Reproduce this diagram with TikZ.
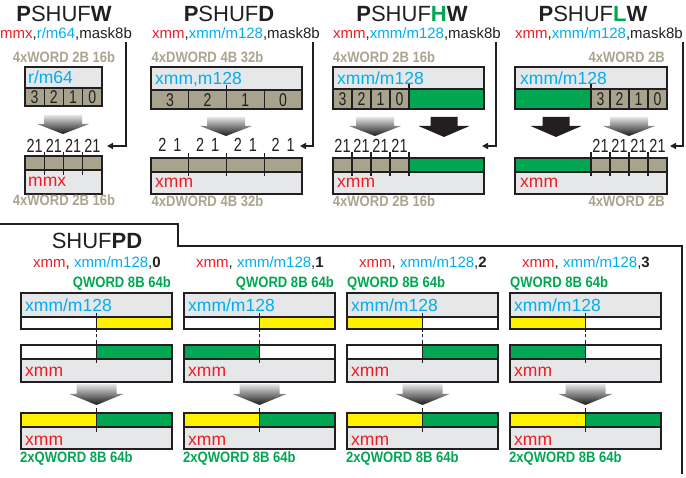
\documentclass[tikz,border=0pt]{standalone}
\usepackage{fontspec}
\setmainfont{Liberation Sans}
\newfontfamily\labfont[FakeStretch=0.87]{Liberation Sans Bold}
\newfontfamily\numfont[FakeStretch=0.76]{Liberation Sans}
\usetikzlibrary{arrows.meta}

\definecolor{ink}{HTML}{231F20}
\definecolor{xred}{HTML}{ED1C24}
\definecolor{xcyan}{HTML}{00AEEF}
\definecolor{xgreen}{HTML}{00A651}
\definecolor{xyellow}{HTML}{FFF200}
\definecolor{khaki}{HTML}{A7A38D}
\definecolor{khakitext}{HTML}{A9A58F}
\definecolor{lgray}{HTML}{E6E7E8}

\tikzset{
 fadearrow/.pic={\shade[top color=black!10, bottom color=black!90] (-19,0) -- (19,0) -- (19,9) -- (26,9) -- (0,19) -- (-26,9) -- (-19,9) -- cycle;},
 fadearrowwide/.pic={\shade[top color=black!10, bottom color=black!90] (-20,0) -- (20,0) -- (20,10) -- (27,10) -- (0,21) -- (-27,10) -- (-20,10) -- cycle;},
 solidarrow/.pic={\fill[ink] (-13.5,0) -- (13.5,0) -- (13.5,9) -- (25.5,9) -- (0,20) -- (-25.5,9) -- (-13.5,9) -- cycle;}
}

\begin{document}
\begin{tikzpicture}[x=1pt, y=-1pt]
 \tikzstyle{regbox}=[draw=ink, line width=1.4pt, fill=lgray]
 \tikzstyle{lanes}=[draw=ink, line width=1.4pt, fill=khaki]
 \tikzstyle{hilane}=[draw=ink, line width=1.4pt, fill=xgreen]
 \tikzstyle{half}=[draw=ink, line width=1.4pt]
 \tikzstyle{lanesep}=[draw=ink, line width=1.2pt]
 \tikzstyle{optitle}=[inner sep=0pt, anchor=base, text=ink, font=\fontsize{22}{26}\selectfont]
 \tikzstyle{opargs}=[inner sep=0pt, anchor=base, text=ink, font=\fontsize{15}{18}\selectfont]
 \tikzstyle{szlab}=[inner sep=0pt, text=khakitext, font=\labfont\fontsize{15}{18}\selectfont]
 \tikzstyle{qwlab}=[inner sep=0pt, text=xgreen, font=\labfont\fontsize{15}{18}\selectfont]
 \tikzstyle{regname}=[inner sep=0pt, anchor=base west, font=\fontsize{17.5}{20}\selectfont]
 \tikzstyle{cellno}=[inner sep=0pt, anchor=base, text=ink, font=\numfont\fontsize{18.5}{20}\selectfont]
 \tikzstyle{selno}=[inner sep=0pt, anchor=base, text=ink, font=\numfont\fontsize{19}{22}\selectfont]
 \tikzstyle{maskline}=[-{Triangle[length=6pt,width=6pt]}, line width=2.2pt, draw=ink]
 \useasboundingbox (0,0) rectangle (686,478);
 %
 % PSHUFW
 \node[optitle] (pshufw) at (64,22) {\textbf{P}SHUF\textbf{W}};
 \node[opargs] (args1) at (66,38.5) {\textcolor{xred}{mmx},\textcolor{xcyan}{r/m64},mask8b};
 \node[szlab, anchor=base] (sz1) at (64,63) {4xWORD 2B 16b};
 \draw[regbox] (25,67) rectangle (102,106);
 \node[regname, text=xcyan] (src1) at (28,84) {r/m64};
 \draw[lanes] (25,88) rectangle (102,106);
 \draw[lanesep] (44.25,88) -- (44.25,106) (63.5,88) -- (63.5,106) (82.75,88) -- (82.75,106);
 \node[cellno] (c13) at (34.6,104) {3};
 \node[cellno] (c12) at (53.9,104) {2};
 \node[cellno] (c11) at (73.1,104) {1};
 \node[cellno] (c10) at (92.4,104) {0};
 \pic at (63,115) {fadearrow};
 \node[selno] (s13) at (34.6,153) {21};
 \node[selno] (s12) at (53.9,153) {21};
 \node[selno] (s11) at (73.1,153) {21};
 \node[selno] (s10) at (92.4,153) {21};
 \draw[regbox] (25,156) rectangle (102,194);
 \draw[lanes] (25,156) rectangle (102,170);
 \draw[lanesep] (44.25,152) -- (44.25,175) (63.5,152) -- (63.5,175) (82.75,152) -- (82.75,175);
 \node[regname, text=xred] (dst1) at (28,187) {mmx};
 \node[szlab, anchor=base] (sz1b) at (64,206) {4xWORD 2B 16b};
 \coordinate (k1) at (126,42);
 \coordinate (k1end) at (107,146);
 \draw[maskline] (k1) |- (k1end);
 %
 % PSHUFD
 \node[optitle] (pshufd) at (229,22) {\textbf{P}SHUF\textbf{D}};
 \node[opargs] (args2) at (236,38.5) {\textcolor{xred}{xmm},\textcolor{xcyan}{xmm/m128},mask8b};
 \node[szlab, anchor=base] (sz2) at (207.5,63) {4xDWORD 4B 32b};
 \draw[regbox] (151,67) rectangle (302,109);
 \node[regname, text=xcyan] (src2) at (155,85) {xmm,m128};
 \draw[lanes] (151,90) rectangle (302,109);
 \draw[lanesep] (188.75,90) -- (188.75,109) (226.5,85) -- (226.5,109) (264.25,90) -- (264.25,109);
 \node[cellno] (c23) at (170,106.5) {3};
 \node[cellno] (c22) at (207.6,106.5) {2};
 \node[cellno] (c21) at (245.4,106.5) {1};
 \node[cellno] (c20) at (283.1,106.5) {0};
 \pic at (226,117) {fadearrow};
 \node[selno] (s23) at (170,152) {2\hspace{7pt}1};
 \node[selno] (s22) at (207.6,152) {2\hspace{7pt}1};
 \node[selno] (s21) at (245.4,152) {2\hspace{7pt}1};
 \node[selno] (s20) at (283.1,152) {2\hspace{7pt}1};
 \draw[regbox] (151,158) rectangle (302,194);
 \draw[lanes] (151,158) rectangle (302,172);
 \draw[lanesep] (188.75,153) -- (188.75,176) (226.5,153) -- (226.5,176) (264.25,153) -- (264.25,176);
 \node[regname, text=xred] (dst2) at (155,188) {xmm};
 \node[szlab, anchor=base] (sz2b) at (207.5,207) {4xDWORD 4B 32b};
 \coordinate (k2) at (313,42);
 \coordinate (k2end) at (300,146);
 \draw[maskline] (k2) |- (k2end);
 %
 % PSHUFHW
 \node[optitle] (pshufhw) at (412,22) {\textbf{P}SHUF\textbf{\textcolor{xgreen}{H}W}};
 \node[opargs] (args3) at (417,38.5) {\textcolor{xred}{xmm},\textcolor{xcyan}{xmm/m128},mask8b};
 \node[szlab, anchor=base] (sz3) at (384,63) {4xWORD 2B 16b};
 \draw[regbox] (333,67) rectangle (484,109);
 \node[regname, text=xcyan] (src3) at (337,85) {xmm/m128};
 \draw[lanes] (333,89) rectangle (409,109);
 \draw[hilane] (409,89) rectangle (484,109);
 \draw[lanesep] (352,89) -- (352,109) (371,89) -- (371,109) (390,89) -- (390,109) (409,84) -- (409,89);
 \node[cellno] (c33) at (342.5,106) {3};
 \node[cellno] (c32) at (361.5,106) {2};
 \node[cellno] (c31) at (380.5,106) {1};
 \node[cellno] (c30) at (399.5,106) {0};
 \pic at (375,117) {fadearrow};
 \pic at (444,117) {solidarrow};
 \node[selno] (s33) at (342.5,153) {21};
 \node[selno] (s32) at (361.5,153) {21};
 \node[selno] (s31) at (380.5,153) {21};
 \node[selno] (s30) at (399.5,153) {21};
 \draw[regbox] (333,158) rectangle (484,194);
 \draw[lanes] (333,158) rectangle (409,172);
 \draw[hilane] (409,158) rectangle (484,172);
 \draw[lanesep] (352,152) -- (352,176) (371,152) -- (371,176) (390,152) -- (390,176) (409,152) -- (409,176);
 \node[regname, text=xred] (dst3) at (337,188) {xmm};
 \node[szlab, anchor=base] (sz3b) at (384,207) {4xWORD 2B 16b};
 \coordinate (k3) at (496,42);
 \coordinate (k3end) at (482,146);
 \draw[maskline] (k3) |- (k3end);
 %
 % PSHUFLW
 \node[optitle] (pshuflw) at (593,22) {\textbf{P}SHUF\textbf{\textcolor{xgreen}{L}W}};
 \node[opargs] (args4) at (599,38.5) {\textcolor{xred}{xmm},\textcolor{xcyan}{xmm/m128},mask8b};
 \node[szlab, anchor=base east] (sz4) at (665,63) {4xWORD 2B};
 \draw[regbox] (515,67) rectangle (667,109);
 \node[regname, text=xcyan] (src4) at (520,85) {xmm/m128};
 \draw[hilane] (515,89) rectangle (591,109);
 \draw[lanes] (591,89) rectangle (667,109);
 \draw[lanesep] (610,89) -- (610,109) (629,89) -- (629,109) (648,89) -- (648,109) (591,84) -- (591,89);
 \node[cellno] (c43) at (600.5,106) {3};
 \node[cellno] (c42) at (619.5,106) {2};
 \node[cellno] (c41) at (638.5,106) {1};
 \node[cellno] (c40) at (657.5,106) {0};
 \pic at (556,117) {solidarrow};
 \pic at (629,117) {fadearrow};
 \node[selno] (s43) at (600.5,153) {21};
 \node[selno] (s42) at (619.5,153) {21};
 \node[selno] (s41) at (638.5,153) {21};
 \node[selno] (s40) at (657.5,153) {21};
 \draw[regbox] (515,158) rectangle (667,194);
 \draw[hilane] (515,158) rectangle (591,172);
 \draw[lanes] (591,158) rectangle (667,172);
 \draw[lanesep] (591,152) -- (591,176) (610,152) -- (610,176) (629,152) -- (629,176) (648,152) -- (648,176);
 \node[regname, text=xred] (dst4) at (520,188) {xmm};
 \node[szlab, anchor=base east] (sz4b) at (665,207) {4xWORD 2B};
 \coordinate (k4) at (683,42);
 \coordinate (k4end) at (670,146);
 \draw[maskline] (k4) |- (k4end);
 %
 % SHUFPD
 \draw[draw=ink, line width=2pt] (0,224) -| (178,246) -| (682,474);
 \node[optitle] (shufpd) at (97,249) {SHUF\textbf{PD}};
 \foreach \i/\x/\imm/\sl/\sr/\dl/\dr/\qa/\qx in {1/21/0/white/xyellow/white/xgreen/east/171,
   2/184/1/white/xyellow/xgreen/white/east/334, 3/347/2/xyellow/white/white/xgreen/west/347,
   4/510/3/xyellow/white/xgreen/white/west/510}{
  \node[opargs] (pdargs\i) at (\x+76,268) {\textcolor{xred}{xmm}, \textcolor{xcyan}{xmm/m128},\textbf{\imm}};
  \node[qwlab, anchor=base \qa] (pdsz\i) at (\qx,288) {QWORD 8B 64b};
  \draw[regbox] (\x,293) rectangle (\x+151,329);
  \node[regname, text=xcyan] (pdsrc\i) at (\x+4,312) {xmm/m128};
  \draw[half, fill=\sl] (\x,317) rectangle (\x+75.5,329);
  \draw[half, fill=\sr] (\x+75.5,317) rectangle (\x+151,329);
  \draw[lanesep] (\x+75.5,313) -- (\x+75.5,329);
  \draw[lanesep, line width=1pt, dash pattern=on 3pt off 2.5pt] (\x+75.5,329) -- (\x+75.5,345);
  \draw[regbox] (\x,345) rectangle (\x+151,382);
  \draw[half, fill=\dl] (\x,345) rectangle (\x+75.5,359);
  \draw[half, fill=\dr] (\x+75.5,345) rectangle (\x+151,359);
  \draw[lanesep] (\x+75.5,340) -- (\x+75.5,363);
  \node[regname, text=xred] (pddst\i) at (\x+4,377) {xmm};
  \pic at (\x+75.5,384) {fadearrowwide};
  \draw[regbox] (\x,413) rectangle (\x+151,449);
  \draw[half, fill=xyellow] (\x,413) rectangle (\x+75.5,427);
  \draw[half, fill=xgreen] (\x+75.5,413) rectangle (\x+151,427);
  \draw[lanesep] (\x+75.5,408) -- (\x+75.5,432);
  \node[regname, text=xred] (pdres\i) at (\x+4,446) {xmm};
  \node[qwlab, anchor=base west] (pdout\i) at (\x-1,463) {2xQWORD 8B 64b};
 }
\end{tikzpicture}
\end{document}
